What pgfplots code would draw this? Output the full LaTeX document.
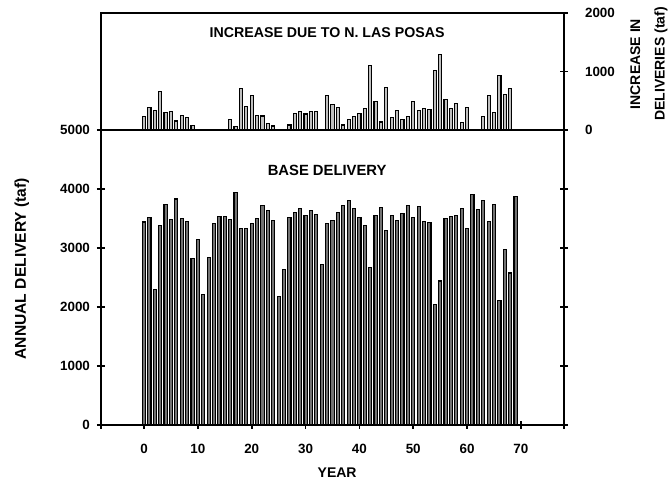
\documentclass[border=0pt]{standalone}
\usepackage{pgfplots}
\pgfplotsset{compat=1.18}
\usepackage{fontspec}
\setmainfont{Liberation Sans}

% base delivery and increase, years 0-69 (taf)
\pgfplotstableread{
year base
0 3440
1 3510
2 2290
3 3380
4 3730
5 3490
6 3830
7 3500
8 3450
9 2820
10 3140
11 2215
12 2840
13 3410
14 3535
15 3535
16 3490
17 3936
18 3330
19 3325
20 3410
21 3505
22 3725
23 3640
24 3460
25 2180
26 2633
27 3522
28 3607
29 3664
30 3551
31 3641
32 3562
33 2718
34 3409
35 3471
36 3596
37 3721
38 3811
39 3664
40 3522
41 3386
42 2662
43 3551
44 3692
45 3301
46 3556
47 3471
48 3579
49 3715
50 3517
51 3698
52 3443
53 3432
54 2040
55 2440
56 3500
57 3539
58 3556
59 3670
60 3324
61 3908
62 3647
63 3811
64 3449
65 3732
66 2112
67 2973
68 2577
69 3879
}\basedata

\pgfplotstableread{
year inc
0 229
1 385
2 331
3 652
4 305
5 312
6 154
7 252
8 211
9 77
16 183
17 57
18 703
19 395
20 583
21 252
22 240
23 114
24 69
27 86
28 286
29 314
30 274
31 314
32 314
34 583
35 441
36 389
37 86
38 172
39 229
40 286
41 360
42 1103
43 486
44 137
45 730
46 211
47 326
48 172
49 229
50 492
51 331
52 360
53 343
54 1012
55 1298
56 526
57 372
58 457
59 126
60 383
63 229
64 583
65 297
66 926
67 600
68 703
}\incdata

\pgfplotsset{
  panel/.style={
    scale only axis,
    width=231.5pt,
    xmin=-8, xmax=78,
    axis line style={line width=1pt},
    tick style={line width=0.8pt, black},
    tick align=center,
    major tick length=4pt,
    /pgf/number format/assume math mode=true,
    /pgf/number format/1000 sep={},
    tick label style={font=\bfseries\fontsize{6.7}{8}\selectfont},
    label style={font=\bfseries\fontsize{7}{8}\selectfont},
  },
}

\begin{document}
\begin{tikzpicture}
\useasboundingbox (0pt,0pt) rectangle (335pt,241pt);

% lower panel: base delivery
\begin{axis}[panel,
  at={(50.5pt,28.5pt)}, anchor=south west,
  height=147.5pt,
  ymin=0, ymax=5000,
  ytick={0,1000,...,5000},
  yticklabel pos=left,
  xtick={0,10,...,70},
  xtick pos=bottom,
  extra x ticks={-8,78},
  extra x tick labels={},
  xticklabel style={yshift=-4pt},
  xlabel={YEAR},
  xlabel style={at={(axis description cs:0.51,-0.163)}, anchor=center},
  ylabel={ANNUAL DELIVERY (taf)},
  ylabel style={at={(axis description cs:-0.171,0.53)}, anchor=center,
    font=\bfseries\fontsize{7.8}{9}\selectfont},
]
\addplot[ybar, bar width=0.58, fill=black!55, draw=black, line width=0.55pt]
  table[x=year, y=base] {\basedata};
\node[font=\bfseries\fontsize{7.4}{8}\selectfont] at (axis cs:34,4322) {BASE DELIVERY};
\end{axis}

% upper panel: increase due to N. Las Posas
\begin{axis}[panel,
  at={(50.5pt,176pt)}, anchor=south west,
  height=58.5pt,
  ymin=0, ymax=2000,
  ytick={0,1000,2000},
  ytick pos=right,
  yticklabel pos=right,
  yticklabel style={xshift=5pt},
  xtick=\empty,
]
\addplot[ybar, bar width=0.58, fill=black!25, draw=black, line width=0.55pt]
  table[x=year, y=inc] {\incdata};
\node[font=\bfseries\fontsize{7.1}{8}\selectfont] at (axis cs:34,1658) {INCREASE DUE TO N. LAS POSAS};
\end{axis}

\node[rotate=90, align=center, font=\bfseries\fontsize{7}{12.3}\selectfont]
  at (324.5pt,209pt) {INCREASE IN\\DELIVERIES (taf)};
\end{tikzpicture}
\end{document}
